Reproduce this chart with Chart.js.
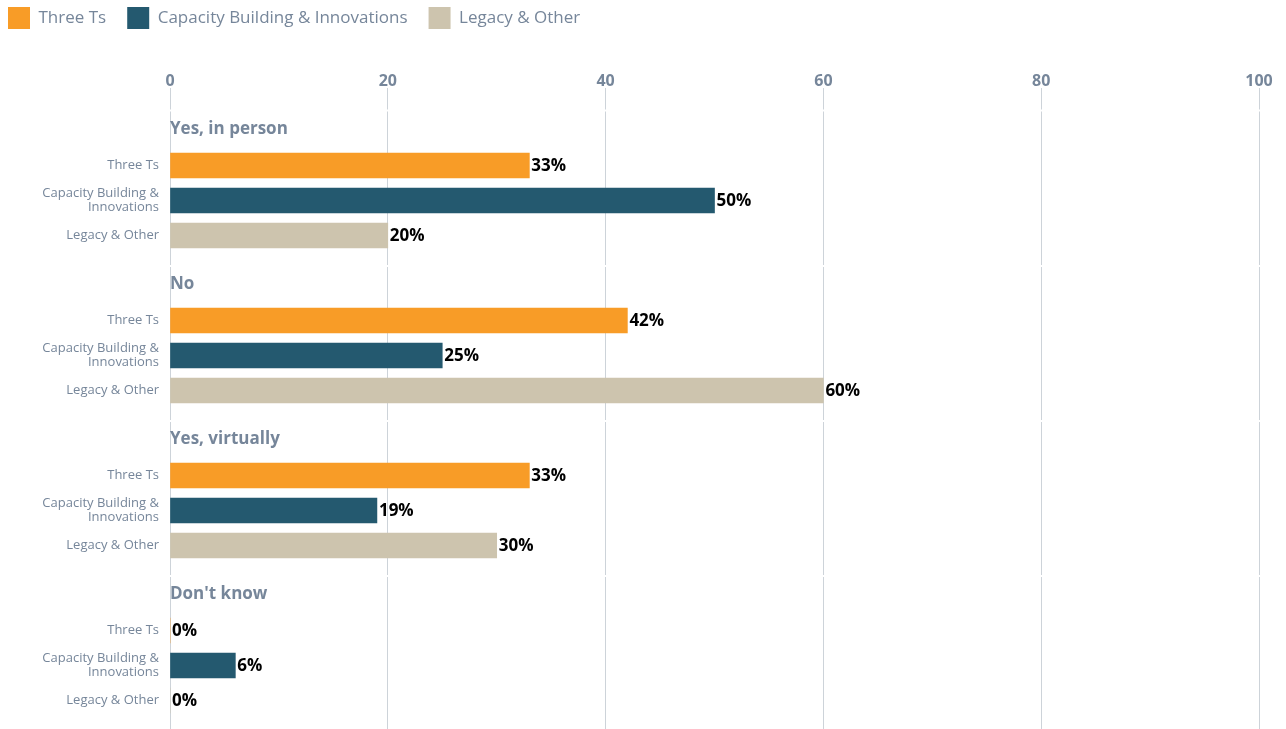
<!DOCTYPE html>
<html>
<head>
<meta charset="utf-8">
<script src="https://cdn.jsdelivr.net/npm/chart.js@4.4.1/dist/chart.umd.min.js"></script>
<style>
  body { margin: 0; background: #fff; }
  #contenedor { width: 1286px; height: 729px; }
</style>
</head>
<body>
<div id="contenedor"><canvas id="grafica"></canvas></div>
<script>
// Datos de la grafica
const grupos = ['Yes, in person', 'No', 'Yes, virtually', "Don't know"];
const series = ['Three Ts', 'Capacity Building & Innovations', 'Legacy & Other'];
const etiquetasFila = ['Three Ts', ['Capacity Building &', 'Innovations'], 'Legacy & Other'];
const valoresThreeTs = [33, 42, 33, 0];
const valoresCapacidad = [50, 25, 19, 6];
const valoresLegado = [20, 60, 30, 0];
const ticksX = [0, 20, 40, 60, 80, 100];

const colores = ['#f89c27', '#24596f', '#cdc4ae'];
const grisTexto = '#76869a';
const grisGrilla = '#cdd3d9';

// Disposicion vertical (unidades = pixeles del area de la grafica)
const ALTO_GRUPO = 155;
const DESP_TITULO = 17;
const DESP_BARRA = 53.5;
const PASO_BARRA = 35;

function posicion(grupo, fila) {
    if (fila < 0) return grupo * ALTO_GRUPO + DESP_TITULO;
    return grupo * ALTO_GRUPO + DESP_BARRA + fila * PASO_BARRA;
}

const valores = [valoresThreeTs, valoresCapacidad, valoresLegado];
const datasets = series.map((nombre, s) => ({
    label: nombre,
    data: valores[s].map((v, g) => ({ x: v, y: posicion(g, s) })),
    backgroundColor: colores[s],
    barThickness: 25,
    maxBarThickness: 25,
    grouped: false
}));

// Ticks del eje y: una fila por barra
const posTicksY = [];
const textoTicksY = {};
grupos.forEach((g, i) => {
    etiquetasFila.forEach((e, f) => {
        const p = posicion(i, f);
        posTicksY.push(p);
        textoTicksY[p] = e;
    });
});

Chart.defaults.font.family = '"Open Sans", sans-serif';

// Plugin para titulos de grupo, huecos en la grilla y etiquetas de valor
const extras = {
    id: 'extras',
    afterLayout(chart) {
        // leyenda pegada arriba a la izquierda
        chart.legend.left = -13;
        chart.legend.top = -14;
    },
    beforeDatasetsDraw(chart) {
        const { ctx, chartArea: a, scales } = chart;
        ctx.save();
        ctx.fillStyle = '#fff';
        ctx.fillRect(a.left - 2, a.top - 2.5, a.right - a.left + 4, 2);
        for (let g = 1; g < grupos.length; g++) {
            const y = scales.y.getPixelForValue(g * ALTO_GRUPO);
            ctx.fillRect(a.left - 2, y - 2, a.right - a.left + 4, 2);
        }
        ctx.fillStyle = grisTexto;
        ctx.font = 'bold 17px "Open Sans"';
        ctx.textAlign = 'left';
        ctx.textBaseline = 'middle';
        grupos.forEach((titulo, g) => {
            ctx.fillText(titulo, a.left, scales.y.getPixelForValue(posicion(g, -1)));
        });
        ctx.restore();
    },
    afterDatasetsDraw(chart) {
        const { ctx } = chart;
        ctx.save();
        ctx.fillStyle = '#000';
        ctx.font = 'bold 17px "Open Sans"';
        ctx.textAlign = 'left';
        ctx.textBaseline = 'middle';
        chart.data.datasets.forEach((ds, i) => {
            chart.getDatasetMeta(i).data.forEach((barra, j) => {
                ctx.fillText(ds.data[j].x + '%', barra.x + 2, barra.y + 1);
            });
        });
        ctx.restore();
    }
};

new Chart(document.getElementById('grafica'), {
    type: 'bar',
    data: { datasets: datasets },
    plugins: [extras],
    options: {
        indexAxis: 'y',
        responsive: true,
        maintainAspectRatio: false,
        animation: false,
        layout: { padding: { top: 0, right: 27, bottom: 0, left: 0 } },
        plugins: {
            legend: {
                position: 'top',
                align: 'start',
                labels: {
                    boxWidth: 22,
                    boxHeight: 22,
                    padding: 21,
                    color: grisTexto,
                    font: { size: 17 }
                }
            },
            tooltip: { enabled: false }
        },
        scales: {
            x: {
                type: 'linear',
                position: 'top',
                min: 0,
                max: 100,
                afterBuildTicks: (s) => { s.ticks = ticksX.map(v => ({ value: v })); },
                afterFit: (s) => { s.height = 112 - (s.chart.legend ? s.chart.legend.height : 53); },
                ticks: { color: grisTexto, font: { size: 16, weight: 'bold' }, padding: -3 },
                grid: { color: grisGrilla, tickColor: grisGrilla, tickLength: 24 },
                border: { display: false }
            },
            y: {
                type: 'linear',
                reverse: true,
                offset: false,
                min: 0,
                max: 617,
                afterBuildTicks: (s) => { s.ticks = posTicksY.map(v => ({ value: v })); },
                afterFit: (s) => { s.width = 170; s.paddingTop = 0; s.paddingBottom = 0; },
                ticks: {
                    autoSkip: false,
                    padding: 11,
                    color: grisTexto,
                    font: { size: 13, lineHeight: 1.05 },
                    callback: (v) => textoTicksY[v]
                },
                grid: { display: false, drawTicks: false },
                border: { display: false }
            }
        }
    }
});
</script>
</body>
</html>
